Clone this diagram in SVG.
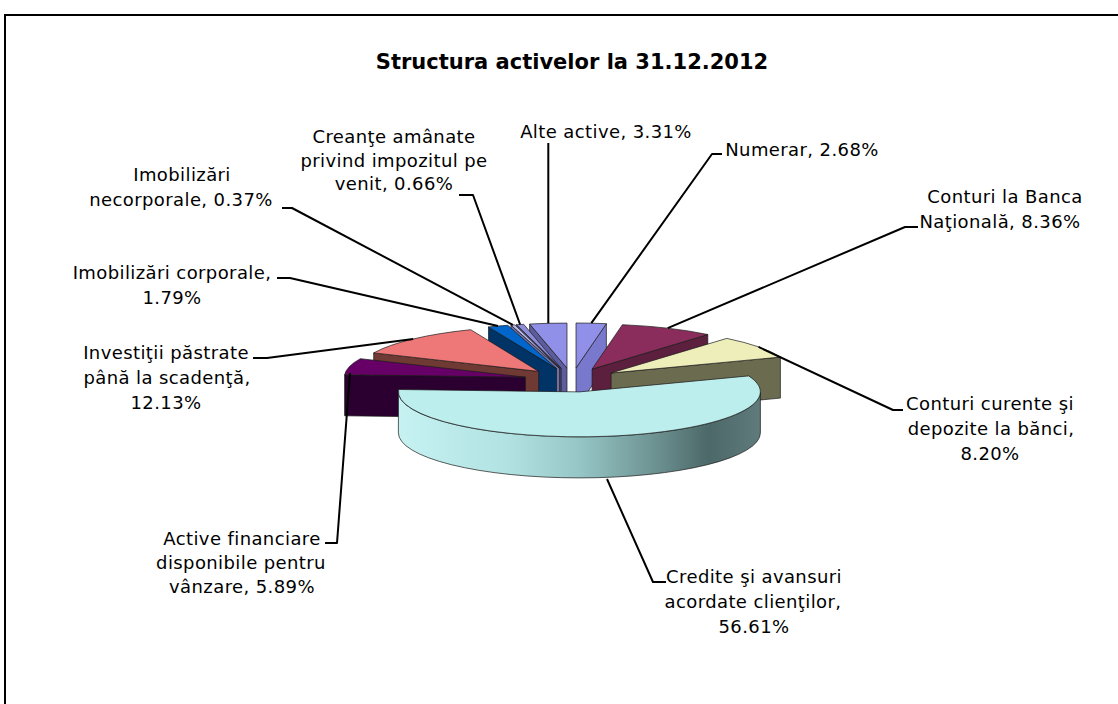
<svg xmlns="http://www.w3.org/2000/svg" width="1118" height="704" viewBox="0 0 1118 704">
<style>
.lbl{font-family:"DejaVu Sans",Verdana,sans-serif;font-size:18px;letter-spacing:0.4px;fill:#000;text-anchor:middle}
.ttl{font-family:"DejaVu Sans",Verdana,sans-serif;font-size:21px;font-weight:bold;fill:#000;text-anchor:middle}
.ld{fill:none;stroke:#000;stroke-width:2;stroke-linejoin:round}
.sl path,.sl polygon{stroke:#1a1a1a;stroke-width:0.7;stroke-linejoin:round}
</style>
<defs>
<linearGradient id="wallG" gradientUnits="userSpaceOnUse" x1="398" y1="0" x2="760" y2="0">
<stop offset="0" stop-color="#c6f2f2"/>
<stop offset="0.3" stop-color="#b2e2e2"/>
<stop offset="0.5" stop-color="#96c6c6"/>
<stop offset="0.7" stop-color="#6f9494"/>
<stop offset="0.86" stop-color="#4c6868"/>
<stop offset="1" stop-color="#5f7b7b"/>
</linearGradient>
</defs>
<rect width="1118" height="704" fill="#fff"/>
<path d="M5,704 L5,15 L1118,15" fill="none" stroke="#000" stroke-width="2"/>
<text class="ttl" x="572" y="69">Structura activelor la 31.12.2012</text>

<g id="slice-numerar" class="sl">
<polygon points="576.0,368.0 606.4,323.7 606.4,364.7 576.0,409.0" fill="#7878cc"/>
<path d="M576.0,368.0 L576.0,323.0 A181,45 0 0 1 606.4,323.7 Z" fill="#9090e8"/>
</g>
<g id="slice-alte" class="sl">
<polygon points="567.0,368.1 529.6,324.0 529.6,365.0 567.0,409.1" fill="#5c5c9e"/>
<path d="M567.0,368.1 L529.6,324.0 A181,45 0 0 1 567.0,323.1 Z" fill="#9090e8"/>
</g>
<g id="slice-creante" class="sl">
<polygon points="561.1,368.3 516.4,324.7 516.4,365.7 561.1,409.3" fill="#4a4a78"/>
<path d="M561.1,368.3 L516.4,324.7 A181,45 0 0 1 523.7,324.3 Z" fill="#8c8cd8"/>
</g>
<g id="slice-imob-necorporale" class="sl">
<polygon points="559.6,368.4 510.9,325.1 510.9,366.1 559.6,409.4" fill="#7070a4"/>
<path d="M559.6,368.4 L510.9,325.1 A181,45 0 0 1 514.9,324.8 Z" fill="#b8b8ec"/>
</g>
<g id="slice-imob-corporale" class="sl">
<polygon points="556.5,368.6 488.5,326.9 488.5,367.9 556.5,409.6" fill="#003366"/>
<path d="M556.5,368.6 L488.5,326.9 A181,45 0 0 1 507.8,325.3 Z" fill="#0066cc"/>
</g>
<g id="slice-conturi-bnm" class="sl">
<polygon points="592.1,369.1 707.8,334.5 707.8,375.5 592.1,410.1" fill="#5c1f3d"/>
<path d="M592.1,369.1 L622.4,324.7 A181,45 0 0 1 707.8,334.5 Z" fill="#8b2d5c"/>
</g>
<g id="slice-investitii" class="sl">
<polygon points="538.7,371.4 373.7,352.9 373.7,393.9 538.7,412.4" fill="#6e3a33"/>
<path d="M538.7,371.4 L373.7,352.9 A181,45 0 0 1 470.7,329.7 Z" fill="#ee7777"/>
</g>
<g id="slice-conturi-curente" class="sl">
<polygon points="611.1,373.0 780.4,357.1 780.4,398.1 611.1,414.0" fill="#6b6b4f"/>
<path d="M611.1,373.0 L726.8,338.4 A181,45 0 0 1 780.4,357.1 Z" fill="#eeeebb"/>
</g>
<g id="slice-active-financiare" class="sl">
<polygon points="525.4,377.2 344.6,374.8 344.6,415.8 525.4,418.2" fill="#2b0030"/>
<path d="M525.4,377.2 L344.6,374.8 A181,45 0 0 1 360.3,358.7 Z" fill="#660066"/>
</g>
<g id="slice-credite" class="sl">
<path d="M760.4,391.9 A181,45 0 0 1 398.4,391.9 L398.4,432.9 A181,45 0 0 0 760.4,432.9 Z" fill="url(#wallG)"/>
<path d="M579.4,391.9 L748.7,375.9 A181,45 0 1 1 398.6,389.5 Z" fill="#bdeeee"/>
</g>

<g id="connectors">
<path class="ld" d="M548.3,143 L548.3,323.3"/>
<path class="ld" d="M722,154 L712,154 L591.3,323.2"/>
<path class="ld" d="M918,227 L905,227 L667.7,328.2"/>
<path class="ld" d="M903,410 L893,410 L758.5,346.9"/>
<path class="ld" d="M666,582 L653,582 L607,479"/>
<path class="ld" d="M325,543 L337,543 L350,373"/>
<path class="ld" d="M253,358 L267,358 L413.2,338.9"/>
<path class="ld" d="M277,278 L290,278 L498,326"/>
<path class="ld" d="M282,208 L292,208 L512.9,324.9"/>
<path class="ld" d="M459,195 L473,195 L520.1,324.5"/>
</g>

<g id="label-creante"><text class="lbl" x="394" y="143">Creanţe amânate</text><text class="lbl" x="394" y="167">privind impozitul pe</text><text class="lbl" x="394" y="190">venit, 0.66%</text></g>
<g id="label-alte"><text class="lbl" x="606" y="138">Alte active, 3.31%</text></g>
<g id="label-numerar"><text class="lbl" x="802" y="156">Numerar, 2.68%</text></g>
<g id="label-imob-necorporale"><text class="lbl" x="182" y="181">Imobilizări</text><text class="lbl" x="181" y="206">necorporale, 0.37%</text></g>
<g id="label-conturi-bnm"><text class="lbl" x="1005" y="203">Conturi la Banca</text><text class="lbl" x="1000" y="228">Naţională, 8.36%</text></g>
<g id="label-imob-corporale"><text class="lbl" x="172" y="279">Imobilizări corporale,</text><text class="lbl" x="172" y="304">1.79%</text></g>
<g id="label-investitii"><text class="lbl" x="166" y="359">Investiţii păstrate</text><text class="lbl" x="167" y="384">până la scadenţă,</text><text class="lbl" x="166" y="409">12.13%</text></g>
<g id="label-conturi-curente"><text class="lbl" x="990" y="410">Conturi curente şi</text><text class="lbl" x="991" y="435">depozite la bănci,</text><text class="lbl" x="990" y="460">8.20%</text></g>
<g id="label-active-financiare"><text class="lbl" x="242" y="545">Active financiare</text><text class="lbl" x="241" y="569">disponibile pentru</text><text class="lbl" x="242" y="593">vânzare, 5.89%</text></g>
<g id="label-credite"><text class="lbl" x="754" y="583">Credite şi avansuri</text><text class="lbl" x="753" y="608">acordate clienţilor,</text><text class="lbl" x="754" y="633">56.61%</text></g>
</svg>
